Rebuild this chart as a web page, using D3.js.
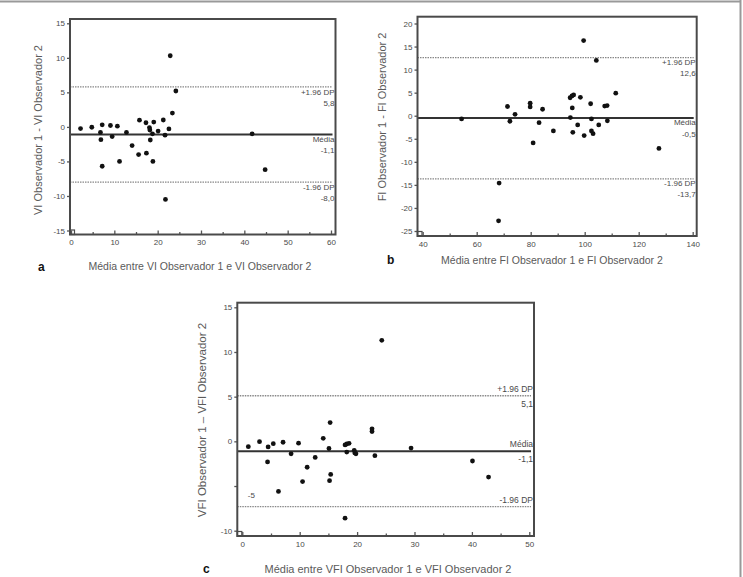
<!DOCTYPE html>
<html>
<head>
<meta charset="utf-8">
<script src="https://cdn.jsdelivr.net/npm/d3@7"></script>
<style>
  body { margin: 0; background: #fff; }
  svg { font-family: "Liberation Sans", Arial, sans-serif; }
  .tick text { fill: #4a4a4a; }
</style>
</head>
<body>
<svg id="fig"></svg>
<script>
const W = 743, H = 577;

// panel a: VI
const aMean = [2.2, 4.8, 6.8, 7.2, 6.9, 7.2, 9.1, 9.5, 10.7, 11.2, 12.8, 14.1, 15.6, 15.8, 17.3, 17.4,
    18.1, 18.2, 18.3, 18.8, 18.9, 19.1, 20.1, 21.3, 21.7, 21.8, 22.6, 22.9, 23.4, 24.2, 41.8, 44.8];
const aDiff = [-0.24, -0.05, -0.8, 0.3, -1.85, -5.7, 0.2, -1.4, 0.1, -5.0, -0.8, -2.7, -4.0, 0.97, 0.6, -3.8,
    -0.1, -0.45, -1.9, -1.0, -5.0, 0.7, -0.6, 1.0, -1.2, -10.5, -0.3, 10.3, 2.0, 5.2, -1.0, -6.2];
const aLimits = [5.8, -1.1, -8.0];
const aLabels = [['+1.96 DP', '5,8'], ['Média', '-1,1'], ['-1.96 DP', '-8,0']];

// panel b: FI
const bMean = [54.4, 68.3, 68.1, 71.4, 72.3, 74.2, 79.8, 79.8, 80.9, 83.1, 84.4, 88.4, 94.6, 94.7, 95.3, 95.4,
    95.6, 95.9, 97.4, 98.4, 99.6, 99.8, 102.2, 102.5, 102.5, 103.1, 104.3, 105.2, 107.4, 108.3, 108.4, 111.5, 127.5];
const bDiff = [-0.7, -14.6, -22.8, 2.0, -1.2, 0.3, 2.7, 1.9, -5.9, -1.5, 1.4, -3.3, 3.9, -0.4, 4.3, 1.7,
    -3.6, 4.5, -2.0, 4.0, 16.3, -4.3, 2.6, -0.7, -3.3, -3.9, 12.0, -2.0, 2.1, 2.2, -1.1, 4.9, -7.1];
const bLimits = [12.6, -0.5, -13.7];
const bLabels = [['+1.96 DP', '12,6'], ['Média', '-0,5'], ['-1.96 DP', '-13,7']];

// panel c: VFI
const cMean = [1.05, 3.0, 4.5, 4.4, 5.4, 6.3, 7.1, 8.5, 9.8, 10.5, 11.3, 12.7, 14.1, 15.1, 15.2, 15.3,
    15.4, 17.9, 17.9, 18.2, 18.2, 18.6, 19.5, 19.6, 19.8, 22.6, 22.6, 23.1, 24.3, 29.4, 40.1, 42.9];
const cDiff = [-0.6, -0.04, -0.63, -2.3, -0.26, -5.6, -0.1, -1.4, -0.2, -4.5, -2.9, -1.8, 0.34, -0.8, -4.4, 2.1,
    -3.7, -0.4, -8.6, -1.2, -0.3, -0.22, -1.0, -1.3, -1.4, 1.4, 1.1, -1.6, 11.3, -0.75, -2.2, -4.0];
const cLimits = [5.1, -1.1, -7.3];
const cLabels = [['+1.96 DP', '5,1'], ['Média', '-1,1'], ['-1.96 DP', '']];

const svg = d3.select('svg#fig').attr('width', W).attr('height', H);

// figure border (top and right only)
svg.append('line').attr('x1', 0).attr('x2', 741).attr('y1', 1.5).attr('y2', 1.5)
    .attr('stroke', '#999').attr('stroke-width', 2);
svg.append('line').attr('x1', 740.5).attr('x2', 740.5).attr('y1', 0).attr('y2', H)
    .attr('stroke', '#999').attr('stroke-width', 2);

const panels = [
    {
        letter: 'a', mean: aMean, diff: aDiff, limits: aLimits, labels: aLabels,
        frame: {l: 70, r: 335.5, t: 19, b: 234.5},
        xDom: [0, 60], xRange: [71, 331], xTicks: d3.range(0, 61, 10), xMinor: d3.range(5, 60, 10),
        yDom: [-15, 15], yRange: [230.5, 23.3], yTicks: d3.range(-15, 16, 5),
        xTitle: 'Média entre VI Observador 1 e VI Observador 2',
        yTitle: 'VI Observador 1 - VI Observador 2',
        xTitlePos: [200, 270], yTitlePos: [42, 130], letterPos: [38, 271],
        labelOff: [8, 19], labelSize: 8, titleSize: 10.5, tickSize: 8
    },
    {
        letter: 'b', mean: bMean, diff: bDiff, limits: bLimits, labels: bLabels,
        frame: {l: 417.5, r: 696.7, t: 16.7, b: 236},
        xDom: [40, 140], xRange: [422.7, 692.7], xTicks: d3.range(40, 141, 20), xMinor: d3.range(50, 140, 20),
        yDom: [-25, 20], yRange: [231, 23.5], yTicks: d3.range(-25, 21, 5),
        xTitle: 'Média entre FI Observador 1 e FI Observador 2',
        yTitle: 'FI Observador 1 - FI Observador 2',
        xTitlePos: [552, 264], yTitlePos: [386, 117], letterPos: [387, 264],
        labelOff: [7, 18.5], labelSize: 8, titleSize: 10.5, tickSize: 8
    },
    {
        letter: 'c', mean: cMean, diff: cDiff, limits: cLimits, labels: cLabels,
        frame: {l: 237.3, r: 534, t: 302.7, b: 536},
        xDom: [0, 50], xRange: [242.3, 529.3], xTicks: d3.range(0, 51, 10), xMinor: d3.range(5, 50, 10),
        yDom: [-10, 15], yRange: [530.7, 307.3], yTicks: d3.range(-10, 16, 5),
        xTitle: 'Média entre VFI Observador 1 e VFI Observador 2',
        yTitle: 'VFI Observador 1 – VFI Observador 2',
        xTitlePos: [388, 573], yTitlePos: [206, 420], letterPos: [203, 573],
        labelOff: [-4, 11], labelSize: 8.5, titleSize: 11, tickSize: 8,
        strayTick: -5
    }
];

panels.forEach(drawPanel);

function drawPanel(p) {
    const g = svg.append('g').classed('panel-' + p.letter, true);
    const x = d3.scaleLinear().domain(p.xDom).range(p.xRange);
    const y = d3.scaleLinear().domain(p.yDom).range(p.yRange);
    const f = p.frame;

    // reference lines: limits of agreement dotted, mean solid
    g.append('g').selectAll('line')
        .data(p.limits)
        .join('line')
        .attr('x1', f.l).attr('x2', f.r - 3)
        .attr('y1', d => y(d)).attr('y2', d => y(d))
        .attr('stroke', (d, i) => i === 1 ? '#333' : '#888')
        .attr('stroke-width', (d, i) => i === 1 ? 2 : 1.3)
        .attr('stroke-dasharray', (d, i) => i === 1 ? null : '1.5,1');

    // labels next to the lines
    const lab = g.append('g').attr('font-size', p.labelSize).attr('fill', '#4a4a4a')
        .attr('text-anchor', 'end');
    p.limits.forEach((v, i) => {
        p.labels[i].forEach((t, j) => {
            if (!t) return;
            lab.append('text')
                .attr('x', f.r - 1)
                .attr('y', y(v) + p.labelOff[j])
                .text(t);
        });
    });

    // points
    g.append('g').selectAll('circle')
        .data(p.mean.map((m, i) => [m, p.diff[i]]))
        .join('circle')
        .attr('cx', d => x(d[0]))
        .attr('cy', d => y(d[1]))
        .attr('r', 2.4)
        .attr('fill', '#111');

    // x axis, ticks point inward
    const xa = g.append('g').attr('transform', `translate(0, ${f.b})`)
        .call(d3.axisBottom(x).tickValues(p.xTicks).tickSize(-4).tickPadding(5)
            .tickFormat(d => String(d)));
    g.append('g').attr('transform', `translate(0, ${f.b})`)
        .call(d3.axisBottom(x).tickValues(p.xMinor).tickSize(-2.5).tickFormat(''))
        .select('.domain').remove();
    xa.select('.domain').remove();
    xa.selectAll('text').attr('font-size', p.tickSize);

    // y axis
    const ya = g.append('g').attr('transform', `translate(${f.l}, 0)`)
        .call(d3.axisLeft(y).tickValues(p.yTicks).tickSize(3).tickPadding(2)
            .tickFormat(d => d === p.strayTick ? '' : String(d)));
    ya.select('.domain').remove();
    ya.selectAll('text').attr('font-size', p.tickSize);
    g.selectAll('.tick line').attr('stroke', '#555').attr('stroke-width', 1.3);

    // the misplaced "-5" label of panel c
    if (p.strayTick !== undefined) {
        g.append('text')
            .attr('x', x(0) + 9).attr('y', y(p.strayTick) + 12)
            .attr('text-anchor', 'middle')
            .attr('font-size', p.tickSize).attr('fill', '#4a4a4a')
            .text(String(p.strayTick));
    }

    // frame and corner square
    g.append('rect')
        .attr('x', f.l).attr('y', f.t)
        .attr('width', f.r - f.l).attr('height', f.b - f.t)
        .attr('fill', 'none').attr('stroke', '#4a4a4a').attr('stroke-width', 2);
    g.append('rect')
        .attr('x', f.l).attr('y', f.b - 4.5)
        .attr('width', 4.5).attr('height', 4.5)
        .attr('fill', 'none').attr('stroke', '#4a4a4a').attr('stroke-width', 1.2);

    // titles
    g.append('text')
        .attr('x', p.xTitlePos[0]).attr('y', p.xTitlePos[1])
        .attr('text-anchor', 'middle')
        .attr('font-size', p.titleSize).attr('fill', '#5a5a5a')
        .text(p.xTitle);
    g.append('text')
        .attr('transform', `translate(${p.yTitlePos[0]}, ${p.yTitlePos[1]}) rotate(-90)`)
        .attr('text-anchor', 'middle')
        .attr('font-size', p.titleSize + 0.5).attr('fill', '#5a5a5a')
        .text(p.yTitle);
    g.append('text')
        .attr('x', p.letterPos[0]).attr('y', p.letterPos[1])
        .attr('font-size', 12).attr('font-weight', 'bold').attr('fill', '#111')
        .text(p.letter);
}
</script>
</body>
</html>
